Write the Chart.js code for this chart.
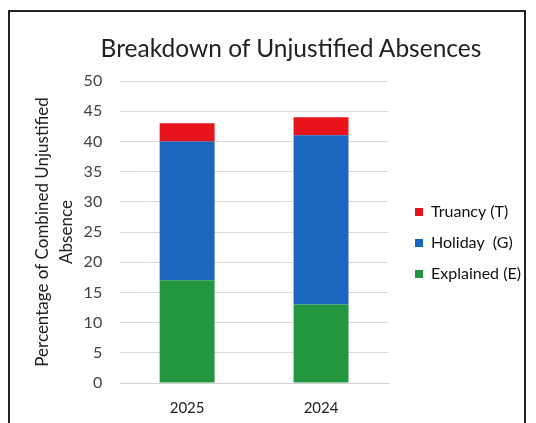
<!DOCTYPE html>
<html>
<head>
<meta charset="utf-8">
<script src="https://cdn.jsdelivr.net/npm/chart.js@4"></script>
<style>
  html, body { margin: 0; padding: 0; background: #fff; }
  #frame {
    position: absolute; left: 8px; top: 10px; width: 518px; height: 432px;
    border: 2px solid #222; box-sizing: border-box;
  }
  #title {
    position: absolute; left: 0; top: 21px; width: 100%; text-align: center;
    font-family: Lato, "Open Sans", sans-serif; font-size: 24.5px; color: #222;
    padding-left: 48px; box-sizing: border-box;
  }
  #wrap { position: absolute; left: 0; top: 0; width: 514px; height: 423px; }
</style>
</head>
<body>
<div id="frame">
  <div id="wrap"><canvas id="myChart"></canvas></div>
  <div id="title">Breakdown of Unjustified Absences</div>
</div>
<script>
var years = ['2025', '2024'];
var explained = [17, 13];
var holiday = [23, 28];
var truancy = [3, 3];
var yTicks = [0, 5, 10, 15, 20, 25, 30, 35, 40, 45, 50];

// nudge the legend block right/up without changing the plot area
// (legend is clipped to its box, so stretch the box to the canvas edge)
var legendShift = {
    id: 'legendShift',
    afterLayout: function (chart) {
        var lg = chart.legend;
        lg.left += 12;
        lg.right = chart.width;
        lg.width = lg.right - lg.left;
        lg.top -= 14; lg.bottom -= 14;
    }
};

window.onload = function () {
    var ctx = document.getElementById('myChart').getContext('2d');
    Chart.defaults.font.family = 'Lato, "Open Sans", sans-serif';
    Chart.defaults.color = '#333';
    var config = {
        type: 'bar',
        data: {
            labels: years,
            datasets: [
                { label: 'Explained (E)', data: explained, backgroundColor: '#22973f' },
                { label: 'Holiday  (G)', data: holiday, backgroundColor: '#1a66be' },
                { label: 'Truancy (T)', data: truancy, backgroundColor: '#e8141c' }
            ]
        },
        options: {
            responsive: true,
            maintainAspectRatio: false,
            animation: false,
            layout: { padding: { top: 69, left: 21, right: 17, bottom: 2 } },
            datasets: { bar: { categoryPercentage: 0.82, barPercentage: 0.5 } },
            plugins: {
                title: { display: false },
                tooltip: { enabled: false },
                legend: {
                    position: 'right',
                    reverse: true,
                    labels: {
                        boxWidth: 8, boxHeight: 8, padding: 15,
                        color: '#111', font: { size: 16 }
                    }
                }
            },
            scales: {
                x: {
                    stacked: true,
                    grid: { display: false, drawTicks: false },
                    border: { color: '#d0d0d0' },
                    ticks: { padding: 16, color: '#222', font: { size: 15 } }
                },
                y: {
                    stacked: true,
                    min: 0,
                    max: 50,
                    afterBuildTicks: function (axis) {
                        axis.ticks = yTicks.map(function (v) { return { value: v }; });
                    },
                    grid: { color: '#d9d9d9', drawTicks: false },
                    border: { display: false },
                    ticks: { padding: 18, color: '#444', font: { size: 16 } },
                    title: {
                        display: true,
                        text: ['Percentage of Combined Unjustified', 'Absence'],
                        color: '#222',
                        font: { size: 17, lineHeight: 1.4 },
                        padding: { top: 0, bottom: -13 }
                    }
                }
            }
        },
        plugins: [legendShift]
    };
    window.myBar = new Chart(ctx, config);
};
</script>
</body>
</html>
